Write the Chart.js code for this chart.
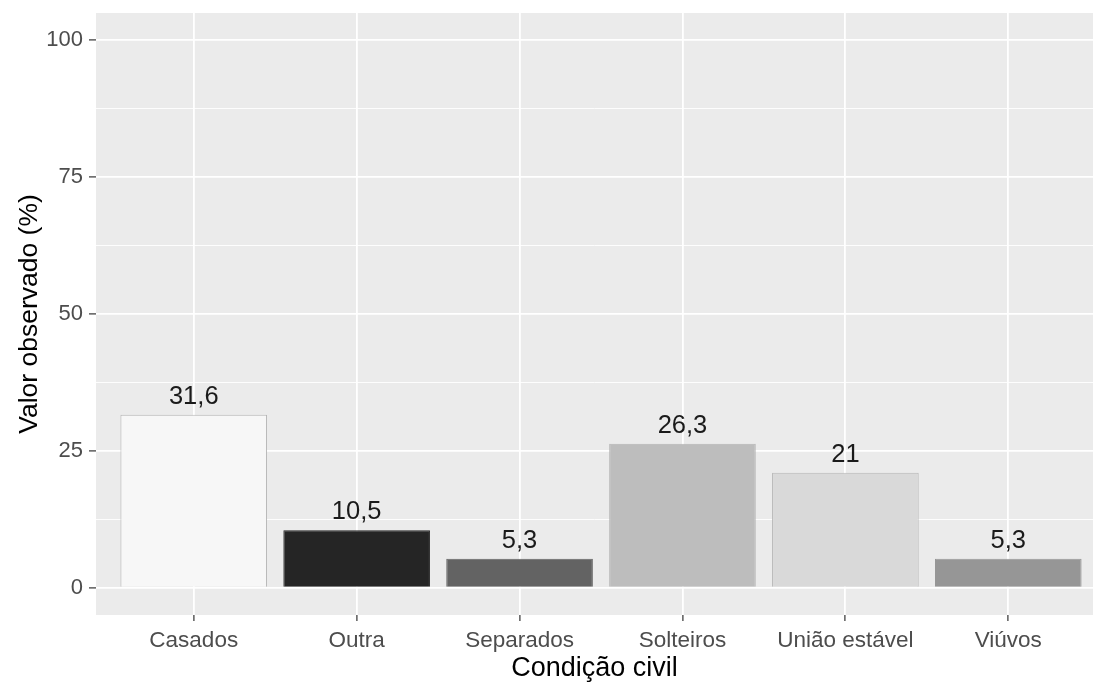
<!DOCTYPE html>
<html>
<head>
<meta charset="utf-8">
<script src="https://cdn.jsdelivr.net/npm/chart.js@4/dist/chart.umd.min.js"></script>
<style>
html,body{margin:0;padding:0;background:#fff;}
#wrap{width:1093px;height:685px;}
</style>
</head>
<body>
<div id="wrap"><canvas id="c" width="1093" height="685"></canvas></div>
<script>
const categories = ["Casados", "Outra", "Separados", "Solteiros", "União estável", "Viúvos"];
const values = [31.6, 10.5, 5.3, 26.3, 21, 5.3];
const fillColors = ["#f7f7f7", "#252525", "#636363", "#bdbdbd", "#d9d9d9", "#969696"];
const borderColors = ["#b5b5b5", "#252525", "#636363", "#b5b5b5", "#b5b5b5", "#969696"];
const yTicks = [0, 12.5, 25, 37.5, 50, 62.5, 75, 87.5, 100];
const yMajor = [0, 25, 50, 75, 100];

const FONT = "'Liberation Sans', Arial, sans-serif";

const panelBg = {
  id: 'panelBg',
  beforeDraw(chart) {
    const {ctx, chartArea: a} = chart;
    ctx.save();
    ctx.fillStyle = '#ebebeb';
    ctx.fillRect(a.left, a.top, a.right - a.left, a.bottom - a.top);
    ctx.restore();
  }
};

const valueLabels = {
  id: 'valueLabels',
  afterDatasetsDraw(chart) {
    const {ctx} = chart;
    const meta = chart.getDatasetMeta(0);
    ctx.save();
    ctx.font = "25.5px " + FONT;
    ctx.fillStyle = '#1a1a1a';
    ctx.textAlign = 'center';
    ctx.textBaseline = 'alphabetic';
    meta.data.forEach((el, i) => {
      ctx.fillText(String(values[i]).replace('.', ','), el.x, el.y - 11);
    });
    ctx.restore();
  }
};

new Chart(document.getElementById('c'), {
  type: 'bar',
  data: {
    datasets: [{
      data: values.map((v, i) => ({x: i, y: v})),
      backgroundColor: fillColors,
      borderColor: borderColors,
      borderWidth: 1,
      barPercentage: 0.9,
      categoryPercentage: 1.0
    }]
  },
  options: {
    responsive: false,
    animation: false,
    devicePixelRatio: 1,
    layout: {padding: {top: 13, right: 0, left: 0, bottom: 0}},
    plugins: {legend: {display: false}, tooltip: {enabled: false}},
    scales: {
      x: {
        type: 'linear',
        min: -0.6,
        max: 5.52,
        offset: false,
        afterBuildTicks(scale) { scale.ticks = categories.map((c, i) => ({value: i})); },
        afterFit(scale) { scale.height = 70; scale.paddingLeft = 0; scale.paddingRight = 0; },
        ticks: {
          callback: (v) => categories[v],
          color: '#4d4d4d',
          font: {family: FONT, size: 22.5},
          padding: 6,
          autoSkip: false,
          maxRotation: 0
        },
        grid: {offset: false, color: '#ffffff', lineWidth: 1.8, tickColor: '#333333', tickLength: 6, tickWidth: 1.2},
        border: {display: false},
        title: {
          display: true,
          text: 'Condição civil',
          color: '#000000',
          font: {family: FONT, size: 27},
          padding: {top: 0, bottom: 0}
        }
      },
      y: {
        min: -5,
        max: 105,
        afterBuildTicks(scale) { scale.ticks = yTicks.map(v => ({value: v})); },
        afterFit(scale) { scale.width = 96; scale.paddingTop = 0; scale.paddingBottom = 0; },
        ticks: {
          callback: (v) => yMajor.includes(v) ? String(v) : '',
          color: '#4d4d4d',
          font: {family: FONT, size: 22},
          padding: 6
        },
        grid: {
          color: '#ffffff',
          lineWidth: (ctx) => yMajor.includes(ctx.tick.value) ? 1.8 : 0.9,
          tickColor: (ctx) => yMajor.includes(ctx.tick.value) ? '#333333' : 'rgba(0,0,0,0)',
          tickLength: 7,
          tickWidth: 1.2
        },
        border: {display: false},
        title: {
          display: true,
          text: 'Valor observado (%)',
          color: '#000000',
          font: {family: FONT, size: 26.5},
          padding: {top: 14, bottom: 0}
        }
      }
    }
  },
  plugins: [panelBg, valueLabels]
});
</script>
</body>
</html>
